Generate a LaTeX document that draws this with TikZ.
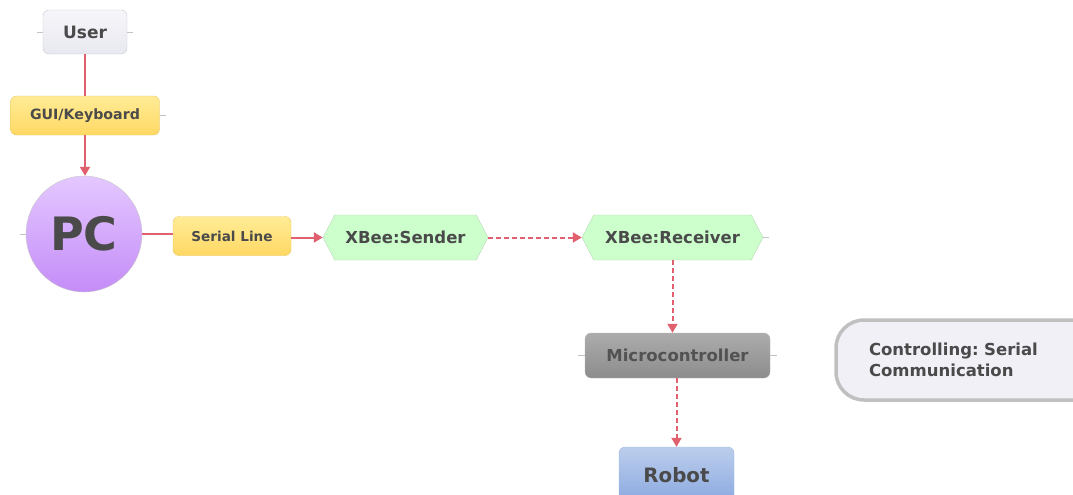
\documentclass[tikz,border=0pt]{standalone}
\usepackage{fontspec}
\setmainfont{DejaVu Sans}
\usetikzlibrary{shapes.symbols,arrows.meta}
\definecolor{linkred}{HTML}{E0606E}
\definecolor{inktext}{HTML}{4A4A4A}
\definecolor{stubgray}{HTML}{C4C4C4}
\frenchspacing
\begin{document}
\begin{tikzpicture}[x=1pt,y=-1pt,
    every node/.style={font=\bfseries, text=inktext},
    userbox/.style={rounded corners=6pt, draw={rgb,255:red,200;green,200;blue,208},
        top color={rgb,255:red,246;green,246;blue,250}, bottom color={rgb,255:red,232;green,232;blue,240},
        minimum width=84pt, minimum height=44pt},
    yellowbox/.style={rounded corners=6pt, draw={rgb,255:red,232;green,200;blue,100},
        top color={rgb,255:red,255;green,236;blue,150}, bottom color={rgb,255:red,255;green,216;blue,100},
        minimum height=39pt},
    pcball/.style={circle, draw={rgb,255:red,200;green,200;blue,200},
        top color={rgb,255:red,228;green,200;blue,255}, bottom color={rgb,255:red,196;green,140;blue,248},
        minimum size=116pt, inner sep=0pt},
    xbeehex/.style={signal, signal to=east and west, signal pointer angle=125,
        draw={rgb,255:red,185;green,215;blue,185}, fill={rgb,255:red,204;green,255;blue,204},
        minimum height=45pt},
    mcubox/.style={rounded corners=6pt, draw={rgb,255:red,185;green,185;blue,185},
        top color={rgb,255:red,172;green,172;blue,172}, bottom color={rgb,255:red,140;green,140;blue,140},
        minimum width=185pt, minimum height=45pt, text={rgb,255:red,82;green,82;blue,82}},
    robotbox/.style={rounded corners=6pt, draw={rgb,255:red,160;green,184;blue,224},
        top color={rgb,255:red,188;green,206;blue,236}, bottom color={rgb,255:red,138;green,168;blue,224},
        minimum width=115pt, minimum height=56pt},
    notebox/.style={rounded corners=28pt, line width=3.5pt, draw={rgb,255:red,192;green,192;blue,192},
        fill={rgb,255:red,240;green,240;blue,246}, minimum height=80pt,
        text width=208pt, inner xsep=33pt, align=left},
    link/.style={draw=linkred, line width=2pt},
    arrow/.style={link, -{Triangle[length=9pt,width=10pt]}},
    dasharrow/.style={arrow, dash pattern=on 5pt off 3pt},
    stub/.style={draw=stubgray, line width=0.8pt}]

  \useasboundingbox (0,0) rectangle (1073,495);

  % nodes
  \node[userbox, font=\bfseries\fontsize{17}{17}\selectfont] (user) at (85,32) {User};
  \node[yellowbox, minimum width=149pt, font=\bfseries\fontsize{14.2}{14}\selectfont] (gui) at (85,115.5) {GUI/Keyboard};
  \node[pcball, font=\bfseries\fontsize{46}{46}\selectfont] (pc) at (84,234) {PC};
  \node[yellowbox, minimum width=118pt, font=\bfseries\fontsize{13.6}{14}\selectfont] (serial) at (232,236) {Serial Line};
  \node[xbeehex, minimum width=165pt, font=\bfseries\fontsize{16.5}{16}\selectfont] (sender) at (405.5,237.5) {XBee:Sender};
  \node[xbeehex, minimum width=181pt, font=\bfseries\fontsize{16.5}{16}\selectfont] (receiver) at (672.5,237.5) {XBee:Receiver};
  \node[mcubox, font=\bfseries\fontsize{16.5}{16}\selectfont] (mcu) at (677.5,355.5) {Microcontroller};
  \node[robotbox, font=\bfseries\fontsize{19.8}{20}\selectfont] (robot) at (676.5,475) {Robot};
  \node[notebox, font=\bfseries\fontsize{16.5}{21}\selectfont] (note) at (973,360) {Controlling: Serial\\Communication};

  % links
  \draw[link] (user) -- (gui);
  \draw[arrow] (gui.south) -- (gui.south |- pc.north);
  \draw[link] (pc.east) -- (serial.west |- pc.east);
  \draw[arrow] (serial.east |- sender.west) -- (sender.west);
  \draw[dasharrow] (sender.east) -- (receiver.west);
  \draw[dasharrow] (receiver.south) -- (receiver.south |- mcu.north);
  \draw[dasharrow] (mcu.south -| robot.north) -- (robot.north);

  % stubs
  \draw[stub] (user.west) -- ++(-6,0);
  \draw[stub] (user.east) -- ++(6,0);
  \draw[stub] (gui.east) -- ++(6,0);
  \draw[stub] (pc.west) -- ++(-6,0);
  \draw[stub] (receiver.east) -- ++(6,0);
  \draw[stub] (mcu.west) -- ++(-7,0);
  \draw[stub] (mcu.east) -- ++(7,0);
\end{tikzpicture}
\end{document}
